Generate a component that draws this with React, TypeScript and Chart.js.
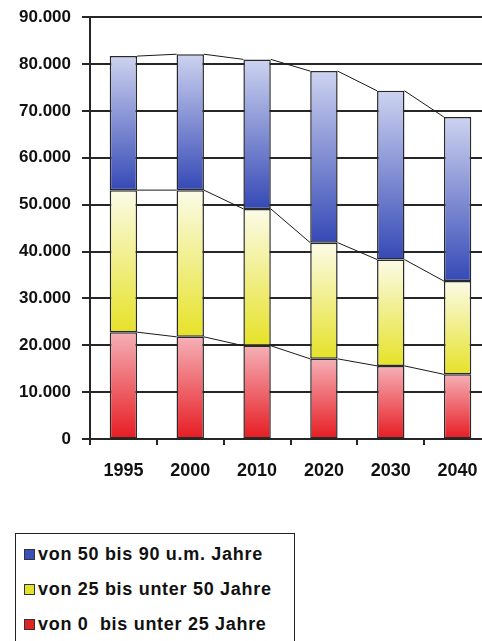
import React, { useEffect, useRef } from "react";
import { Chart, registerables } from "chart.js";

Chart.register(...registerables);

// Bevölkerung (in Tausend) nach Altersgruppen
const years = ["1995", "2000", "2010", "2020", "2030", "2040"];
const age0to25 = [22800, 21800, 19900, 17100, 15600, 13800];
const age25to50 = [30300, 31300, 29200, 24800, 22700, 19900];
const age50to90 = [28600, 29000, 31900, 36600, 36000, 35000];

const seriesNames = [
  "von 0  bis unter 25 Jahre",
  "von 25 bis unter 50 Jahre",
  "von 50 bis 90 u.m. Jahre",
];
const seriesValues = [age0to25, age25to50, age50to90];
// [top of segment, bottom of segment, legend swatch]
const seriesColors = [
  ["#f6b0b7", "#e61c22", "#e02424"],
  ["#fbfbe8", "#e6e228", "#e4e030"],
  ["#cdd3f0", "#3549b6", "#3a4fb8"],
];

const yTicks = { min: 0, max: 90000, step: 10000 };

function formatDe(v: number): string {
  const s = Math.round(v).toString();
  return s.replace(/\B(?=(\d{3})+(?!\d))/g, ".");
}

const FONT = "'Liberation Sans', Arial, sans-serif";
const LINE = "#262626";

// Horizontal grid lines with outer tick marks, plus tick marks between the categories
const axisGrid = {
  id: "axisGrid",
  beforeDatasetsDraw(chart: any) {
    const ctx = chart.ctx;
    const { left, right, bottom } = chart.chartArea;
    const xs = chart.scales.x;
    const ys = chart.scales.y;
    ctx.save();
    ctx.strokeStyle = LINE;
    ctx.lineWidth = 2;
    ys.ticks.forEach((t: any) => {
      const py = Math.round(ys.getPixelForValue(t.value));
      ctx.beginPath();
      ctx.moveTo(left - 8, py);
      ctx.lineTo(right, py);
      ctx.stroke();
    });
    const n = chart.data.labels.length;
    const half = (xs.getPixelForValue(1) - xs.getPixelForValue(0)) / 2;
    for (let i = 0; i <= n; i++) {
      const px = Math.round(xs.getPixelForValue(i) - half);
      ctx.beginPath();
      ctx.moveTo(px, bottom);
      ctx.lineTo(px, bottom + 6);
      ctx.stroke();
    }
    ctx.restore();
  },
};

// Excel-style series lines between the tops of neighbouring stack segments
const seriesLines = {
  id: "seriesLines",
  afterDatasetsDraw(chart: any) {
    const ctx = chart.ctx;
    ctx.save();
    ctx.strokeStyle = "#1a1a1a";
    ctx.lineWidth = 1;
    chart.data.datasets.forEach((_: any, d: number) => {
      const bars = chart.getDatasetMeta(d).data;
      for (let i = 0; i < bars.length - 1; i++) {
        const a = bars[i];
        const b = bars[i + 1];
        ctx.beginPath();
        ctx.moveTo(a.x + a.width / 2, a.y);
        ctx.lineTo(b.x - b.width / 2, b.y);
        ctx.stroke();
      }
    });
    ctx.restore();
  },
};

export default function App() {
  const canvasRef = useRef<HTMLCanvasElement | null>(null);

  useEffect(() => {
    const canvas = canvasRef.current;
    if (!canvas) return;

    const gradientFor = (d: number) => (c: any) => {
      const chart = c.chart;
      const y = chart.scales?.y;
      if (!chart.chartArea || !y || c.dataIndex === undefined) return seriesColors[d][1];
      const i = c.dataIndex;
      let start = 0;
      for (let k = 0; k < d; k++) start += seriesValues[k][i];
      const end = start + seriesValues[d][i];
      const top = y.getPixelForValue(end);
      const bottom = y.getPixelForValue(start);
      const g = chart.ctx.createLinearGradient(0, top, 0, bottom);
      g.addColorStop(0, seriesColors[d][0]);
      g.addColorStop(1, seriesColors[d][1]);
      return g;
    };

    const chart = new Chart(canvas, {
      type: "bar",
      data: {
        labels: years,
        datasets: seriesValues.map((vals, d) => ({
          label: seriesNames[d],
          data: vals,
          backgroundColor: gradientFor(d),
          borderColor: "#2a2a2a",
          borderWidth: 1.5,
          borderSkipped: false,
          barPercentage: 0.41,
          categoryPercentage: 1,
        })),
      },
      options: {
        responsive: false,
        animation: false,
        layout: { padding: { top: 17, right: 9, left: 0, bottom: 0 } },
        plugins: {
          legend: { display: false },
          tooltip: { enabled: false },
        },
        scales: {
          x: {
            stacked: true,
            afterFit: (s: any) => {
              s.height = 51;
            },
            grid: { display: false },
            border: { display: true, color: LINE, width: 2 },
            ticks: {
              color: "#111",
              padding: 13,
              font: { family: FONT, size: 18, weight: "bold" },
            },
          },
          y: {
            stacked: true,
            min: yTicks.min,
            max: yTicks.max,
            afterFit: (s: any) => {
              s.width = 90;
            },
            // invisible native ticks only reserve room between the axis and its labels
            grid: {
              display: true,
              drawOnChartArea: false,
              drawTicks: true,
              tickLength: 12,
              color: "rgba(0,0,0,0)",
            },
            border: { display: true, color: LINE, width: 2 },
            ticks: {
              stepSize: yTicks.step,
              color: "#111",
              padding: 7,
              font: { family: FONT, size: 17, weight: "bold" },
              callback: (v: any) => formatDe(Number(v)),
            },
          },
        },
      },
      plugins: [axisGrid, seriesLines],
    });

    return () => chart.destroy();
  }, []);

  const legendOrder = [2, 1, 0];

  return (
    <div
      style={{
        position: "absolute",
        left: 0,
        top: 0,
        width: 482,
        height: 641,
        overflow: "hidden",
        background: "#fff",
      }}
    >
      <canvas ref={canvasRef} width={500} height={490} style={{ display: "block" }} />
      <div
        style={{
          position: "absolute",
          left: 15,
          top: 533,
          width: 280,
          height: 130,
          border: "1.5px solid #222",
          boxSizing: "border-box",
          fontFamily: FONT,
          fontWeight: "bold",
          fontSize: 18,
          color: "#111",
        }}
      >
        {legendOrder.map((d, row) => (
          <div
            key={d}
            style={{
              position: "absolute",
              left: 8,
              top: 10 + row * 35,
              height: 20,
              display: "flex",
              alignItems: "center",
              whiteSpace: "pre",
            }}
          >
            <span
              style={{
                display: "inline-block",
                width: 9,
                height: 9,
                background: seriesColors[d][2],
                border: "1px solid #333",
                marginRight: 3,
              }}
            />
            <span style={{ letterSpacing: 0.7 }}>{seriesNames[d]}</span>
          </div>
        ))}
      </div>
    </div>
  );
}
